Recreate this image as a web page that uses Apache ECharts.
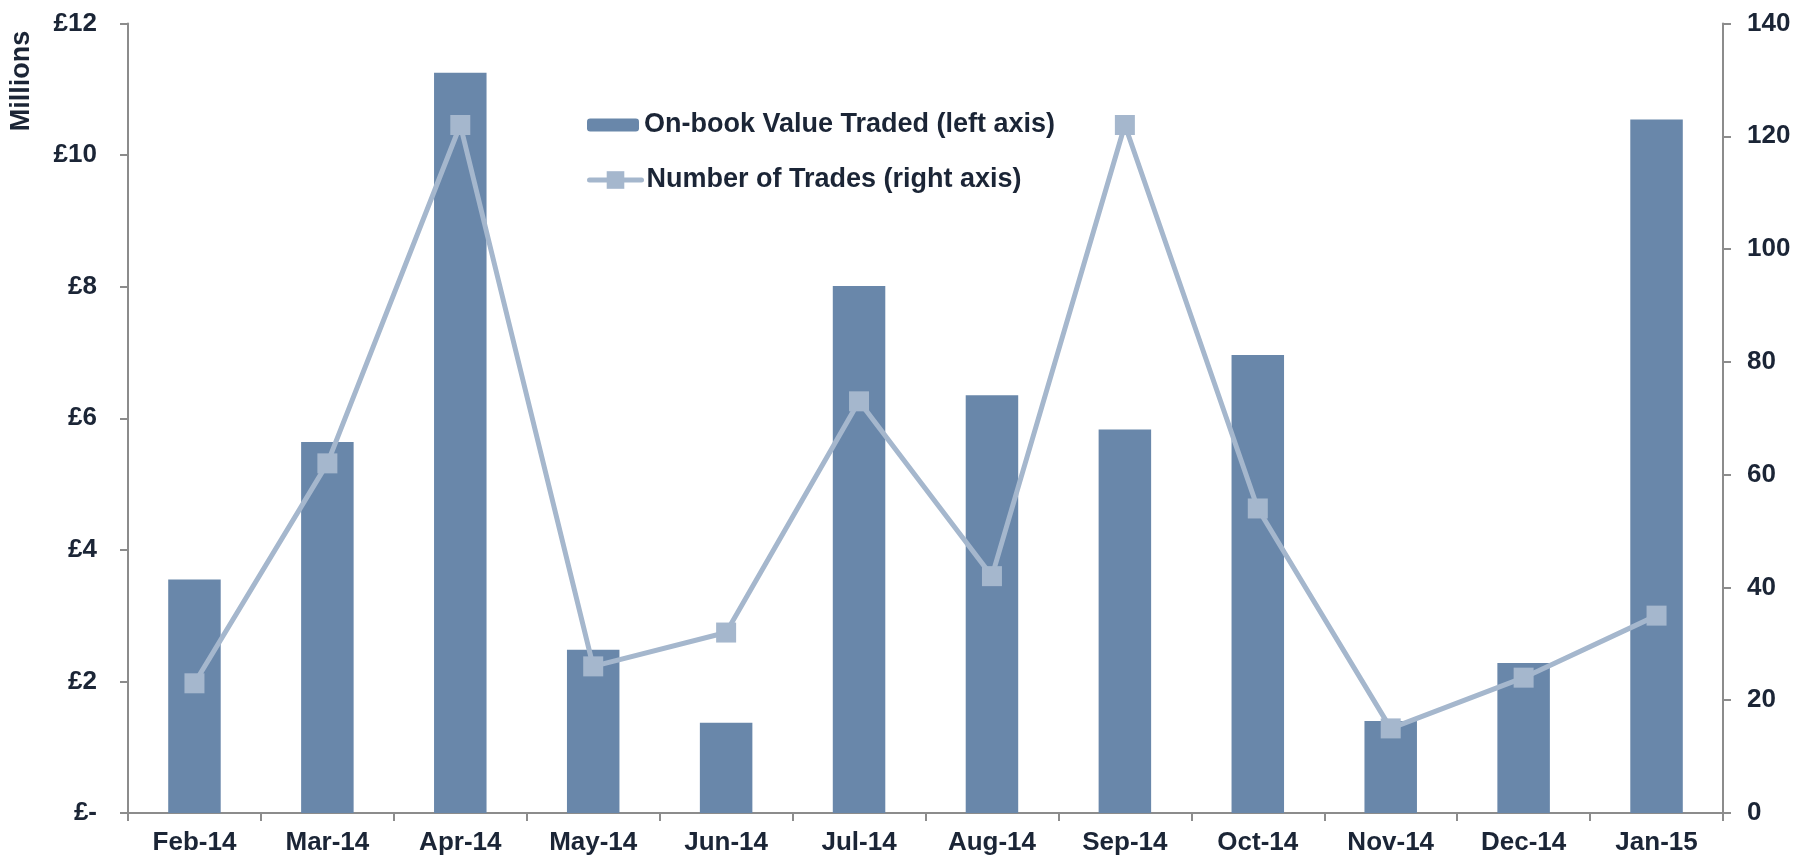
<!DOCTYPE html>
<html>
<head>
<meta charset="utf-8">
<script src="https://cdn.jsdelivr.net/npm/echarts@6/dist/echarts.min.js"></script>
<style>
  html, body { margin: 0; padding: 0; background: #fff; }
  #chart { width: 1797px; height: 859px; }
</style>
</head>
<body>
<div id="chart"></div>
<script>
  // data
  var months = ['Feb-14', 'Mar-14', 'Apr-14', 'May-14', 'Jun-14', 'Jul-14',
    'Aug-14', 'Sep-14', 'Oct-14', 'Nov-14', 'Dec-14', 'Jan-15'];
  var valueTraded = [3.55, 5.64, 11.25, 2.48, 1.37, 8.01, 6.35, 5.83, 6.96, 1.40, 2.28, 10.54]; // £ millions
  var numTrades = [23, 62, 122, 26, 32, 73, 42, 122, 54, 15, 24, 35];

  var barColor = '#6987aa';
  var lineColor = '#a5b7cd';
  var textColor = '#1b2536';
  var axisColor = '#8c8c8c';
  var font = 'Liberation Sans, Arial, sans-serif';

  var chart = echarts.init(document.getElementById('chart'));
  var option = {
    animation: false,
    textStyle: { fontFamily: font },
    grid: { left: 128, right: 74, top: 23.5, bottom: 46 },
    legend: [{
      data: ['On-book Value Traded (left axis)'],
      left: 587, top: 110, padding: 0,
      itemWidth: 52, itemHeight: 13, itemGap: 0,
      textStyle: { color: textColor, fontSize: 27, fontWeight: 'bold', fontFamily: font, lineHeight: 30 }
    }, {
      data: ['Number of Trades (right axis)'],
      left: 587, top: 165, padding: 0,
      itemWidth: 52, itemHeight: 22,
      lineStyle: { width: 5, cap: 'round' },
      textStyle: { color: textColor, fontSize: 27, fontWeight: 'bold', fontFamily: font, lineHeight: 30 }
    }],
    graphic: [{
      type: 'text',
      x: 22, y: 81,
      rotation: Math.PI / 2,
      style: {
        text: 'Millions',
        fill: textColor,
        font: 'bold 27px ' + font,
        textAlign: 'center',
        textVerticalAlign: 'middle'
      }
    }],
    xAxis: {
      type: 'category',
      data: months,
      axisLine: { lineStyle: { color: axisColor, width: 2 } },
      axisTick: { show: true, length: 8, lineStyle: { color: axisColor, width: 2 } },
      axisLabel: { color: textColor, fontSize: 26, fontWeight: 'bold', margin: 17, interval: 0 }
    },
    yAxis: [{
      type: 'value',
      min: 0, max: 12, interval: 2,
      axisLine: { show: true, lineStyle: { color: axisColor, width: 2 } },
      axisTick: { show: true, length: 8, lineStyle: { color: axisColor, width: 2 } },
      splitLine: { show: false },
      axisLabel: {
        color: textColor, fontSize: 26, fontWeight: 'bold', margin: 31,
        formatter: function (v) { return v === 0 ? '£-' : '£' + v; }
      }
    }, {
      type: 'value',
      position: 'right',
      min: 0, max: 140, interval: 20,
      axisLine: { show: true, lineStyle: { color: axisColor, width: 2 } },
      axisTick: { show: true, length: 8, lineStyle: { color: axisColor, width: 2 } },
      splitLine: { show: false },
      axisLabel: { color: textColor, fontSize: 26, fontWeight: 'bold', margin: 24 }
    }],
    series: [{
      name: 'On-book Value Traded (left axis)',
      type: 'bar',
      yAxisIndex: 0,
      barWidth: '39.5%',
      itemStyle: { color: barColor },
      data: valueTraded
    }, {
      name: 'Number of Trades (right axis)',
      type: 'line',
      yAxisIndex: 1,
      symbol: 'rect',
      symbolSize: 20,
      lineStyle: { color: lineColor, width: 5 },
      itemStyle: { color: lineColor },
      data: numTrades
    }]
  };
  chart.setOption(option);
</script>
</body>
</html>
